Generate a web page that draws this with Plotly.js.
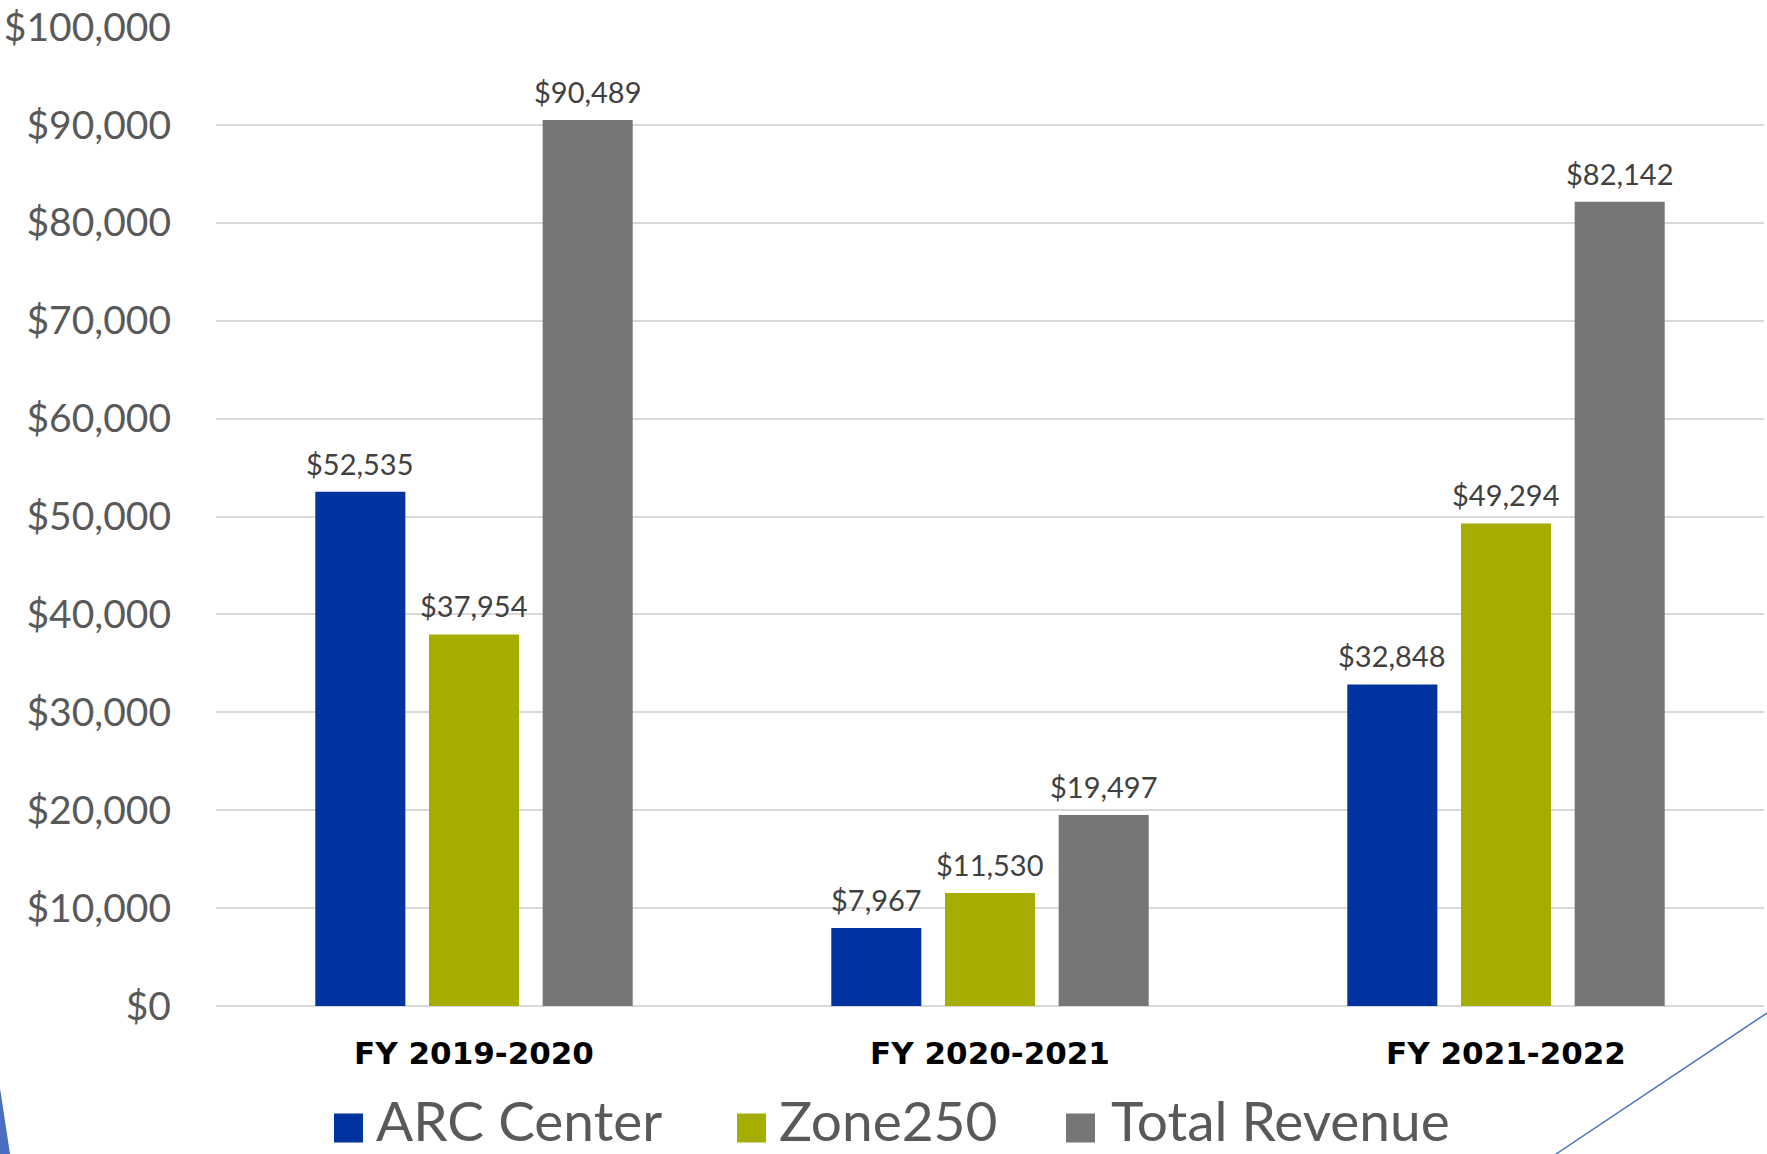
<!DOCTYPE html>
<html>
<head>
<meta charset="utf-8">
<script src="https://cdn.plot.ly/plotly-3.0.1.min.js"></script>
<style>html,body{margin:0;padding:0;background:#fff;}#chart{width:1767px;height:1154px;}</style>
</head>
<body>
<div id="chart"></div>
<script>
// ---- data ----
const categories = ["FY 2019-2020", "FY 2020-2021", "FY 2021-2022"];
const seriesNames = ["ARC Center", "Zone250", "Total Revenue"];
const arcCenter = [52535, 7967, 32848];
const zone250 = [37954, 11530, 49294];
const totalRevenue = [90489, 19497, 82142];
const yTickVals = [0, 10000, 20000, 30000, 40000, 50000, 60000, 70000, 80000, 90000, 100000];
const seriesColors = ["#0033a0", "#a5ae00", "#767676"];

// ---- layout constants (pixels) ----
const W = 1767, H = 1154;
const mL = 216, mR = 3, mT = 27, mB = 148;
const plotW = W - mL - mR, plotH = H - mT - mB;
const BARGAP = 0.339, BARGROUPGAP = 0.208;
const catPx = plotW / categories.length;
const slotPx = catPx * (1 - BARGAP) / seriesNames.length;

const seriesValues = [arcCenter, zone250, totalRevenue];
const fmt = v => "$" + v.toLocaleString("en-US");

const traces = seriesValues.map((vals, j) => ({
  type: "bar",
  name: seriesNames[j],
  x: categories,
  y: vals,
  marker: {color: seriesColors[j], line: {width: 0}},
  showlegend: false,
  hoverinfo: "skip"
}));

const annotations = [];
seriesValues.forEach((vals, j) => {
  vals.forEach((v, i) => {
    annotations.push({
      xref: "x", yref: "y", x: categories[i], y: v,
      xshift: (j - (seriesNames.length - 1) / 2) * slotPx,
      yshift: 9, yanchor: "bottom", xanchor: "center",
      showarrow: false, text: fmt(v),
      font: {family: "Lato, sans-serif", size: 29, color: "#404040"}
    });
  });
});

// custom legend (large swatches)
const px2x = p => (p - mL) / plotW;
const px2y = p => (H - mB - p) / plotH;
const legendSwatchX = [334, 737, 1066];
const legendTextX = [375, 778, 1110];
const legendCY = 1128, sw = 29;
const shapes = [];
seriesNames.forEach((n, j) => {
  shapes.push({
    type: "rect", xref: "paper", yref: "paper",
    x0: px2x(legendSwatchX[j]), x1: px2x(legendSwatchX[j] + sw),
    y0: px2y(legendCY + sw / 2), y1: px2y(legendCY - sw / 2),
    fillcolor: seriesColors[j], line: {width: 0}
  });
  annotations.push({
    xref: "paper", yref: "paper",
    x: px2x(legendTextX[j]), y: px2y(H),
    xanchor: "left", yanchor: "bottom", showarrow: false, borderpad: 0,
    text: n, font: {family: "Lato, sans-serif", size: 55, color: "#595959"}
  });
});
// decorative slide elements
shapes.push({
  type: "path", xref: "paper", yref: "paper",
  path: `M ${px2x(0)} ${px2y(1088)} L ${px2x(10)} ${px2y(1154)} L ${px2x(0)} ${px2y(1154)} Z`,
  fillcolor: "#4a6fc0", line: {width: 0}
});
shapes.push({
  type: "line", xref: "paper", yref: "paper",
  x0: px2x(1767), y0: px2y(1013), x1: px2x(1556), y1: px2y(1154),
  line: {color: "#4a6fc0", width: 1.5}
});

const layout = {
  width: W, height: H,
  margin: {l: mL, r: mR, t: mT, b: mB, pad: 0},
  paper_bgcolor: "#ffffff", plot_bgcolor: "#ffffff",
  barmode: "group", bargap: BARGAP, bargroupgap: BARGROUPGAP,
  showlegend: false,
  separators: ".,",
  xaxis: {
    type: "category",
    tickfont: {family: "'DejaVu Sans', sans-serif", size: 31, color: "#000000", weight: "bold"},
    showgrid: false, showline: false, ticks: "", zeroline: false,
    ticklabelstandoff: 26
  },
  yaxis: {
    range: [0, 100000],
    tickvals: yTickVals,
    ticktext: yTickVals.map(fmt),
    tickfont: {family: "Lato, sans-serif", size: 39, color: "#595959"},
    showgrid: true, gridcolor: "#d9d9d9", gridwidth: 2,
    zeroline: true, zerolinecolor: "#d9d9d9", zerolinewidth: 2,
    showline: false, ticks: "",
    ticklabelstandoff: 44
  },
  annotations: annotations,
  shapes: shapes
};

Plotly.newPlot("chart", traces, layout, {displayModeBar: false, staticPlot: true});
</script>
</body>
</html>
